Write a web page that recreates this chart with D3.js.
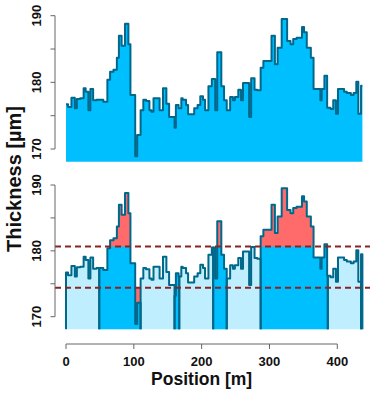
<!DOCTYPE html>
<html>
<head>
<meta charset="utf-8">
<script src="https://cdn.jsdelivr.net/npm/d3@7"></script>
<style>
  html, body { margin: 0; padding: 0; background: #fff; }
  svg { display: block; }
  text { font-family: "Liberation Sans", Arial, sans-serif; font-weight: bold; fill: #111; }
</style>
</head>
<body>
<svg id="chart" width="370" height="393"></svg>
<script>
// ---- data ----
const positions = [0,3,8,13,16,21,26,29,33,36,40,45,55,61,65,70,75,78,82,87,92,95,102,105,110,114,118,123,126,129,138,143,148,152,160,162,166,170,172,177,180,189,194,198,202,205,210,215,220,223,229,233,237,242,246,249,254,258,261,266,270,273,278,282,287,291,298,303,308,312,318,326,331,335,340,348,351,355,361,365,375,377,381,385,390,394,398,401,410,414,420,424,428,431,435];
const thickness = [176.7,176.3,177.7,176.1,177.5,177.6,179.1,178.6,175.8,179.0,177.3,177.4,177.1,180.4,181.6,181.9,183.7,187.0,185.5,188.8,185.7,178.1,168.9,172.1,175.8,177.4,177.2,175.8,175.6,177.6,175.8,179.1,176.8,174.8,173.2,176.6,176.1,177.6,177.4,176.6,175.2,176.1,176.6,177.9,177.4,175.8,179.4,180.5,175.8,184.5,179.4,177.3,175.8,177.8,177.3,177.8,178.9,177.3,179.9,179.9,174.8,180.6,178.9,178.8,182.2,183.2,183.2,187.0,182.7,185.2,189.5,186.2,185.7,186.5,186.7,188.3,187.5,185.2,183.7,179.0,177.3,179.0,181.0,176.2,176.0,177.3,175.3,179.0,178.6,178.4,178.1,178.4,180.1,175.3,179.5];
const endPosition = 437;
const segmentStarts = [49, 160, 217, 287, 435];
const segmentEnds   = [110, 167, 237, 386, 437];
const upperLimit = 180.65;
const lowerLimit = 174.4;
const baseValue = 168.1;
const xTicks = [0, 100, 200, 300, 400];
const yTicks = [170, 175, 180, 185, 190];
const yTickLabels = [170, 180, 190];

// ---- colours ----
const cDark = "#00BFFF", cLight = "#BFEFFF", cRed = "#FF6A6A", cLine = "#00688B", cDash = "#8B2323", cAxis = "#666";

const svg = d3.select("#chart");
const x = d3.scaleLinear().domain([0, 400]).range([66, 337.3]);
const yTop = d3.scaleLinear().domain([170, 190]).range([149, 15.7]);
const yBot = d3.scaleLinear().domain([170, 190]).range([316.7, 185]);

function valueAt(p) {
  let v = thickness[0];
  for (let i = 0; i < positions.length; i++) { if (positions[i] <= p) v = thickness[i]; }
  return v;
}
function stepPts(a, b) {
  const pts = [[a, valueAt(a)]];
  positions.forEach((p, i) => { if (p > a && p < b) pts.push([p, thickness[i]]); });
  pts.push([b, valueAt(b - 1e-6)]);
  return pts;
}
function expandSteps(pts) {
  const out = [];
  pts.forEach((p, i) => {
    if (i > 0) out.push([p[0], pts[i - 1][1]]);
    out.push(p);
  });
  return out;
}

// ---------- top panel ----------
const allPts = stepPts(0, endPosition);
const areaTop = d3.area().curve(d3.curveStepAfter)
  .x(d => x(d[0])).y0(yTop(baseValue)).y1(d => yTop(d[1]));
const lineTop = d3.line().curve(d3.curveStepAfter).x(d => x(d[0])).y(d => yTop(d[1]));
svg.append("path").attr("d", areaTop(allPts)).attr("fill", cDark);
svg.append("path").attr("d", lineTop(allPts)).attr("fill", "none")
  .attr("stroke", cLine).attr("stroke-width", 2).attr("stroke-linejoin", "round");

// ---------- bottom panel ----------
const areaBot = d3.area().curve(d3.curveStepAfter)
  .x(d => x(d[0])).y0(yBot(baseValue)).y1(d => yBot(d[1]));
svg.append("path").attr("d", areaBot(allPts)).attr("fill", cLight);

const redUp = d3.area().curve(d3.curveStepAfter)
  .x(d => x(d[0])).y0(yBot(upperLimit)).y1(d => yBot(Math.max(d[1], upperLimit)));
const redDown = d3.area().curve(d3.curveStepAfter)
  .x(d => x(d[0])).y0(yBot(lowerLimit)).y1(d => yBot(Math.min(d[1], lowerLimit)));

segmentStarts.forEach((s, i) => {
  const pts = stepPts(s, segmentEnds[i]);
  svg.append("path").attr("d", areaBot(pts)).attr("fill", cDark);
  svg.append("path").attr("d", redUp(pts)).attr("fill", cRed);
  svg.append("path").attr("d", redDown(pts)).attr("fill", cRed);
});

// outlines for every segment (light and dark)
const bounds = [0];
segmentStarts.forEach((s, i) => { bounds.push(s); bounds.push(segmentEnds[i]); });
bounds.push(endPosition);
const uniq = Array.from(new Set(bounds)).sort((a, b) => a - b);
const outline = d3.line().x(d => x(d[0])).y(d => yBot(d[1]));
for (let k = 0; k < uniq.length - 1; k++) {
  const a = uniq[k], b = uniq[k + 1];
  if (b <= a) continue;
  const pts = expandSteps(stepPts(a, b));
  const full = [[a, baseValue]].concat(pts).concat([[b, baseValue]]);
  svg.append("path").attr("d", outline(full)).attr("fill", "none")
    .attr("stroke", cLine).attr("stroke-width", 2).attr("stroke-linejoin", "round");
}

// threshold dashed lines
[upperLimit, lowerLimit].forEach(v => {
  svg.append("line").attr("x1", 55).attr("x2", 370)
    .attr("y1", yBot(v)).attr("y2", yBot(v))
    .attr("stroke", cDash).attr("stroke-width", 2).attr("stroke-dasharray", "6,4");
});

// ---------- axes ----------
function yAxis(scale) {
  const g = svg.append("g");
  g.append("line").attr("x1", 55).attr("x2", 55)
    .attr("y1", scale(170)).attr("y2", scale(190)).attr("stroke", cAxis);
  yTicks.forEach(t => {
    g.append("line").attr("x1", 50.5).attr("x2", 55)
      .attr("y1", scale(t)).attr("y2", scale(t)).attr("stroke", cAxis);
  });
  yTickLabels.forEach(t => {
    g.append("text").attr("transform", `translate(41,${scale(t)}) rotate(-90)`)
      .attr("text-anchor", "middle").attr("font-size", 13).text(t);
  });
}
yAxis(yTop);
yAxis(yBot);

const gx = svg.append("g");
gx.append("line").attr("x1", x(0)).attr("x2", x(400)).attr("y1", 344).attr("y2", 344).attr("stroke", cAxis);
xTicks.forEach(t => {
  gx.append("line").attr("x1", x(t)).attr("x2", x(t)).attr("y1", 344).attr("y2", 349).attr("stroke", cAxis);
  gx.append("text").attr("x", x(t)).attr("y", 366).attr("text-anchor", "middle").attr("font-size", 13).text(t);
});
svg.append("text").attr("x", x(200)).attr("y", 385).attr("text-anchor", "middle")
  .attr("font-size", 17.5).text("Position [m]");
svg.append("text").attr("transform", "translate(21,179) rotate(-90)")
  .attr("text-anchor", "middle").attr("font-size", 20).text("Thickness [µm]");
</script>
</body>
</html>
